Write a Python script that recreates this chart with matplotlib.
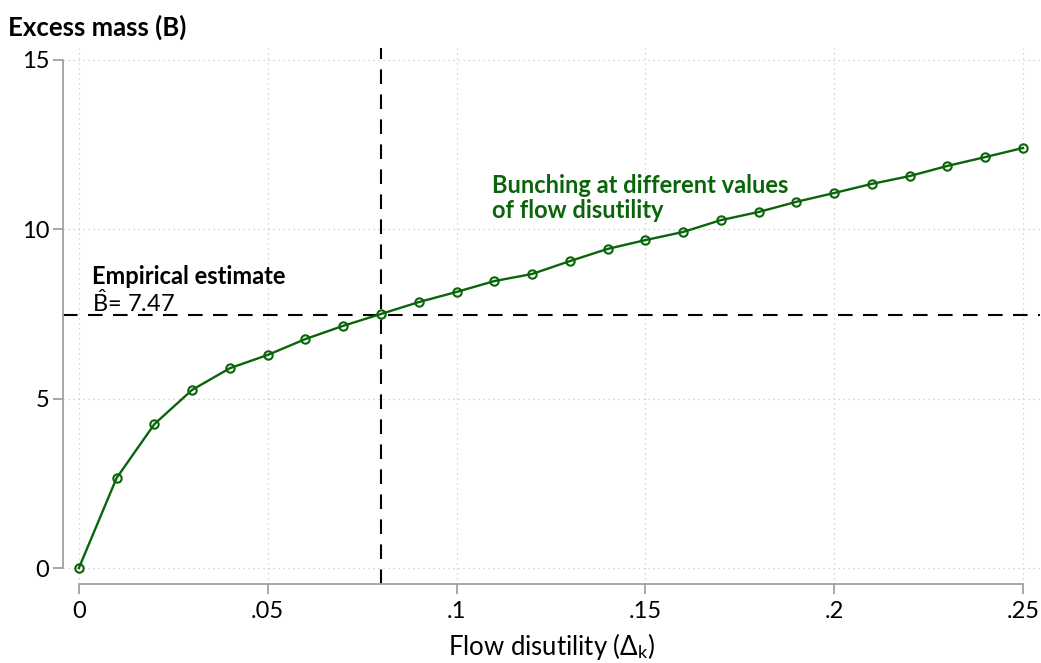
import matplotlib
matplotlib.use('Agg')
from matplotlib import pyplot as plt
import numpy as np

plt.rcParams['font.family'] = ['Lato', 'DejaVu Sans']
plt.rcParams['mathtext.fontset'] = 'custom'
plt.rcParams['mathtext.rm'] = 'Lato'
plt.rcParams['mathtext.it'] = 'Lato:italic'
plt.rcParams['mathtext.bf'] = 'Lato:bold'

# flow disutility values and bunching estimates
flow_disutility = [0.00, 0.01, 0.02, 0.03, 0.04, 0.05, 0.06, 0.07, 0.08, 0.09,
                   0.10, 0.11, 0.12, 0.13, 0.14, 0.15, 0.16, 0.17, 0.18, 0.19,
                   0.20, 0.21, 0.22, 0.23, 0.24, 0.25]
excess_mass = [0.00, 2.66, 4.25, 5.26, 5.90, 6.29, 6.76, 7.15, 7.50, 7.85,
               8.15, 8.47, 8.68, 9.06, 9.42, 9.68, 9.92, 10.27, 10.51, 10.81,
               11.07, 11.34, 11.57, 11.87, 12.13, 12.40]
empirical_B = 7.47
empirical_delta = 0.08
x_ticks = [0, 0.05, 0.10, 0.15, 0.20, 0.25]
x_labels = ['0', '.05', '.1', '.15', '.2', '.25']
y_ticks = [0, 5, 10, 15]

GREEN = '#0a640a'
AXCOL = '#a0a0a0'


def main():
    fig = plt.figure(figsize=(10.41, 6.63), dpi=100)
    ax = fig.add_axes([63/1041, 1-584/663, (1040-63)/1041, (584-48)/663])

    ax.set_xlim(-0.0042, 0.2545)
    ax.set_ylim(-0.47, 15.35)

    ax.grid(True, linestyle=(0, (1, 3)), color='#c8c8c8', linewidth=0.9)
    ax.set_axisbelow(True)

    ax.axhline(empirical_B, color='black', linestyle=(0, (7, 5)), linewidth=1.5, zorder=2)
    ax.axvline(empirical_delta, color='black', linestyle=(0, (7, 5)), linewidth=1.5, zorder=2)

    ax.plot(flow_disutility, excess_mass, color=GREEN, linewidth=1.7, marker='o',
            markersize=6, markerfacecolor='none', markeredgecolor=GREEN,
            markeredgewidth=1.5, zorder=3)

    for side in ['top', 'right']:
        ax.spines[side].set_visible(False)
    ax.spines['left'].set_bounds(0, 15)
    ax.spines['bottom'].set_bounds(0, 0.25)
    for side in ['left', 'bottom']:
        ax.spines[side].set_color(AXCOL)
        ax.spines[side].set_linewidth(1.3)

    ax.set_xticks(x_ticks)
    ax.set_xticklabels(x_labels)
    ax.set_yticks(y_ticks)
    ax.tick_params(axis='both', colors=AXCOL, labelcolor='black', labelsize=17,
                   length=7, width=1.3, direction='out')
    ax.tick_params(axis='x', pad=5)
    ax.tick_params(axis='y', pad=3)

    ax.set_xlabel('Flow disutility (Δ$_{\\mathrm{k}}$)', fontsize=18.5, labelpad=7)
    fig.text(8/1041, 1-27/663, 'Excess mass (B)', fontsize=18.5, fontweight='bold',
             va='center', ha='left')

    ax.text(0.0035, 8.37, 'Empirical estimate', fontsize=17, fontweight='bold',
            ha='left', va='baseline')
    ax.text(0.0035, 7.56, '$\\hat{\\mathrm{B}}$= 7.47', fontsize=17,
            ha='left', va='baseline')
    ax.text(0.1095, 11.07, 'Bunching at different values',
            fontsize=17, fontweight='bold', color=GREEN, ha='left', va='baseline')
    ax.text(0.1095, 10.33, 'of flow disutility',
            fontsize=17, fontweight='bold', color=GREEN, ha='left', va='baseline')

    fig.savefig('out.png', dpi=100)


if __name__ == '__main__':
    main()
